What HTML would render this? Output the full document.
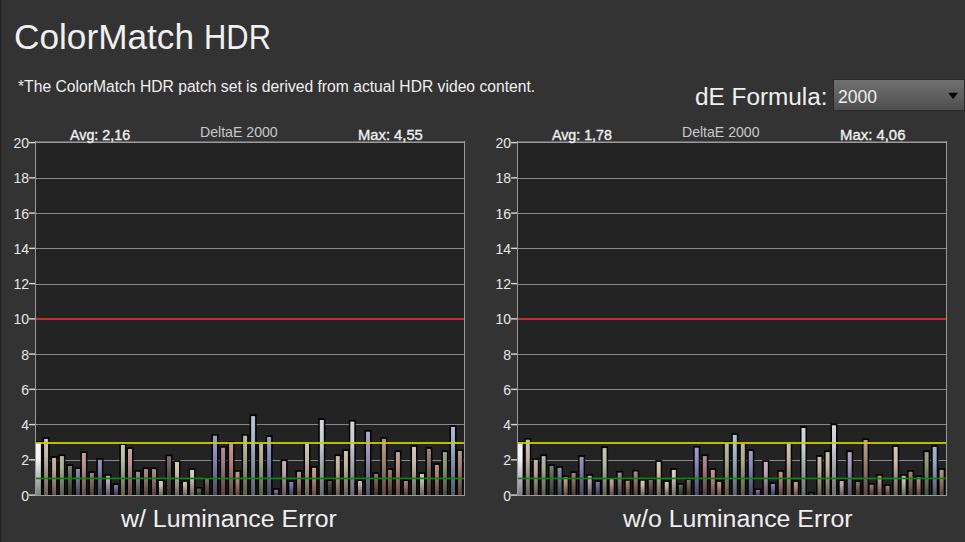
<!DOCTYPE html>
<html><head><meta charset="utf-8"><style>
html,body{margin:0;padding:0;}
body{width:965px;height:542px;background:#333333;position:relative;overflow:hidden;font-family:"Liberation Sans",sans-serif;color:#f0f0f0;}
.t{position:absolute;white-space:nowrap;transform-origin:0 0;line-height:1;}
.yl{font-family:"Liberation Sans",sans-serif;font-size:14px;fill:#e8e8e8;}
</style></head><body>
<svg width="965" height="542" style="position:absolute;left:0;top:0">
<defs><linearGradient id="g0" x1="0" y1="0" x2="0" y2="1"><stop offset="0" stop-color="#f6f6f6"/><stop offset="0.3" stop-color="#f4f4f4"/><stop offset="1" stop-color="#7f7f7f"/></linearGradient><linearGradient id="g1" x1="0" y1="0" x2="0" y2="1"><stop offset="0" stop-color="#cec2b1"/><stop offset="0.3" stop-color="#c5b8a3"/><stop offset="1" stop-color="#675f55"/></linearGradient><linearGradient id="g2" x1="0" y1="0" x2="0" y2="1"><stop offset="0" stop-color="#c6b5a4"/><stop offset="0.3" stop-color="#bca894"/><stop offset="1" stop-color="#62574d"/></linearGradient><linearGradient id="g3" x1="0" y1="0" x2="0" y2="1"><stop offset="0" stop-color="#b4baa3"/><stop offset="0.3" stop-color="#a7ae93"/><stop offset="1" stop-color="#575a4c"/></linearGradient><linearGradient id="g4" x1="0" y1="0" x2="0" y2="1"><stop offset="0" stop-color="#78836c"/><stop offset="0.3" stop-color="#606e52"/><stop offset="1" stop-color="#32392b"/></linearGradient><linearGradient id="g5" x1="0" y1="0" x2="0" y2="1"><stop offset="0" stop-color="#8894ab"/><stop offset="0.3" stop-color="#73819c"/><stop offset="1" stop-color="#3c4351"/></linearGradient><linearGradient id="g6" x1="0" y1="0" x2="0" y2="1"><stop offset="0" stop-color="#c5a296"/><stop offset="0.3" stop-color="#ba9284"/><stop offset="1" stop-color="#614c45"/></linearGradient><linearGradient id="g7" x1="0" y1="0" x2="0" y2="1"><stop offset="0" stop-color="#9d867b"/><stop offset="0.3" stop-color="#8c7163"/><stop offset="1" stop-color="#493b34"/></linearGradient><linearGradient id="g8" x1="0" y1="0" x2="0" y2="1"><stop offset="0" stop-color="#9595b8"/><stop offset="0.3" stop-color="#8282ab"/><stop offset="1" stop-color="#444459"/></linearGradient><linearGradient id="g9" x1="0" y1="0" x2="0" y2="1"><stop offset="0" stop-color="#c2b0c2"/><stop offset="0.3" stop-color="#b7a2b7"/><stop offset="1" stop-color="#5f545f"/></linearGradient><linearGradient id="g10" x1="0" y1="0" x2="0" y2="1"><stop offset="0" stop-color="#877ba9"/><stop offset="0.3" stop-color="#72649a"/><stop offset="1" stop-color="#3b3450"/></linearGradient><linearGradient id="g11" x1="0" y1="0" x2="0" y2="1"><stop offset="0" stop-color="#c2c7ab"/><stop offset="0.3" stop-color="#b7be9c"/><stop offset="1" stop-color="#5f6351"/></linearGradient><linearGradient id="g12" x1="0" y1="0" x2="0" y2="1"><stop offset="0" stop-color="#c5a29d"/><stop offset="0.3" stop-color="#bb928b"/><stop offset="1" stop-color="#614c48"/></linearGradient><linearGradient id="g13" x1="0" y1="0" x2="0" y2="1"><stop offset="0" stop-color="#939393"/><stop offset="0.3" stop-color="#808080"/><stop offset="1" stop-color="#434343"/></linearGradient><linearGradient id="g14" x1="0" y1="0" x2="0" y2="1"><stop offset="0" stop-color="#aa8d82"/><stop offset="0.3" stop-color="#9b796c"/><stop offset="1" stop-color="#513f38"/></linearGradient><linearGradient id="g15" x1="0" y1="0" x2="0" y2="1"><stop offset="0" stop-color="#aa8d82"/><stop offset="0.3" stop-color="#9b796c"/><stop offset="1" stop-color="#513f38"/></linearGradient><linearGradient id="g16" x1="0" y1="0" x2="0" y2="1"><stop offset="0" stop-color="#d4c9b2"/><stop offset="0.3" stop-color="#cdbfa4"/><stop offset="1" stop-color="#6a6355"/></linearGradient><linearGradient id="g17" x1="0" y1="0" x2="0" y2="1"><stop offset="0" stop-color="#83726c"/><stop offset="0.3" stop-color="#6d5952"/><stop offset="1" stop-color="#392e2b"/></linearGradient><linearGradient id="g18" x1="0" y1="0" x2="0" y2="1"><stop offset="0" stop-color="#d4c9b2"/><stop offset="0.3" stop-color="#cdbfa4"/><stop offset="1" stop-color="#6a6355"/></linearGradient><linearGradient id="g19" x1="0" y1="0" x2="0" y2="1"><stop offset="0" stop-color="#cec2ab"/><stop offset="0.3" stop-color="#c5b79c"/><stop offset="1" stop-color="#665f51"/></linearGradient><linearGradient id="g20" x1="0" y1="0" x2="0" y2="1"><stop offset="0" stop-color="#d5d0be"/><stop offset="0.3" stop-color="#cec7b3"/><stop offset="1" stop-color="#6b685d"/></linearGradient><linearGradient id="g21" x1="0" y1="0" x2="0" y2="1"><stop offset="0" stop-color="#6a765f"/><stop offset="0.3" stop-color="#505e42"/><stop offset="1" stop-color="#2a3123"/></linearGradient><linearGradient id="g22" x1="0" y1="0" x2="0" y2="1"><stop offset="0" stop-color="#83786c"/><stop offset="0.3" stop-color="#6e6052"/><stop offset="1" stop-color="#39322b"/></linearGradient><linearGradient id="g23" x1="0" y1="0" x2="0" y2="1"><stop offset="0" stop-color="#9d9dcb"/><stop offset="0.3" stop-color="#8b8bc2"/><stop offset="1" stop-color="#484865"/></linearGradient><linearGradient id="g24" x1="0" y1="0" x2="0" y2="1"><stop offset="0" stop-color="#b18f94"/><stop offset="0.3" stop-color="#a47b82"/><stop offset="1" stop-color="#554043"/></linearGradient><linearGradient id="g25" x1="0" y1="0" x2="0" y2="1"><stop offset="0" stop-color="#c49c90"/><stop offset="0.3" stop-color="#ba8a7c"/><stop offset="1" stop-color="#614841"/></linearGradient><linearGradient id="g26" x1="0" y1="0" x2="0" y2="1"><stop offset="0" stop-color="#c49b8a"/><stop offset="0.3" stop-color="#b98a75"/><stop offset="1" stop-color="#60483d"/></linearGradient><linearGradient id="g27" x1="0" y1="0" x2="0" y2="1"><stop offset="0" stop-color="#baba9d"/><stop offset="0.3" stop-color="#aeae8c"/><stop offset="1" stop-color="#5a5a49"/></linearGradient><linearGradient id="g28" x1="0" y1="0" x2="0" y2="1"><stop offset="0" stop-color="#b1c3d4"/><stop offset="0.3" stop-color="#a4b8cc"/><stop offset="1" stop-color="#55606a"/></linearGradient><linearGradient id="g29" x1="0" y1="0" x2="0" y2="1"><stop offset="0" stop-color="#baba9d"/><stop offset="0.3" stop-color="#aeae8c"/><stop offset="1" stop-color="#5a5a49"/></linearGradient><linearGradient id="g30" x1="0" y1="0" x2="0" y2="1"><stop offset="0" stop-color="#9d9dcb"/><stop offset="0.3" stop-color="#8b8bc2"/><stop offset="1" stop-color="#484865"/></linearGradient><linearGradient id="g31" x1="0" y1="0" x2="0" y2="1"><stop offset="0" stop-color="#937caa"/><stop offset="0.3" stop-color="#80659b"/><stop offset="1" stop-color="#433451"/></linearGradient><linearGradient id="g32" x1="0" y1="0" x2="0" y2="1"><stop offset="0" stop-color="#c7b0bc"/><stop offset="0.3" stop-color="#bea2b0"/><stop offset="1" stop-color="#63545c"/></linearGradient><linearGradient id="g33" x1="0" y1="0" x2="0" y2="1"><stop offset="0" stop-color="#8888b6"/><stop offset="0.3" stop-color="#7373aa"/><stop offset="1" stop-color="#3c3c58"/></linearGradient><linearGradient id="g34" x1="0" y1="0" x2="0" y2="1"><stop offset="0" stop-color="#b79489"/><stop offset="0.3" stop-color="#aa8274"/><stop offset="1" stop-color="#59433c"/></linearGradient><linearGradient id="g35" x1="0" y1="0" x2="0" y2="1"><stop offset="0" stop-color="#cec2ab"/><stop offset="0.3" stop-color="#c5b79c"/><stop offset="1" stop-color="#665f51"/></linearGradient><linearGradient id="g36" x1="0" y1="0" x2="0" y2="1"><stop offset="0" stop-color="#c4a290"/><stop offset="0.3" stop-color="#ba917d"/><stop offset="1" stop-color="#614c41"/></linearGradient><linearGradient id="g37" x1="0" y1="0" x2="0" y2="1"><stop offset="0" stop-color="#cbd7dc"/><stop offset="0.3" stop-color="#c2d0d6"/><stop offset="1" stop-color="#656c6f"/></linearGradient><linearGradient id="g38" x1="0" y1="0" x2="0" y2="1"><stop offset="0" stop-color="#695d57"/><stop offset="0.3" stop-color="#4e403a"/><stop offset="1" stop-color="#29211e"/></linearGradient><linearGradient id="g39" x1="0" y1="0" x2="0" y2="1"><stop offset="0" stop-color="#cdbca4"/><stop offset="0.3" stop-color="#c4b094"/><stop offset="1" stop-color="#665b4d"/></linearGradient><linearGradient id="g40" x1="0" y1="0" x2="0" y2="1"><stop offset="0" stop-color="#cec2ab"/><stop offset="0.3" stop-color="#c5b79c"/><stop offset="1" stop-color="#665f51"/></linearGradient><linearGradient id="g41" x1="0" y1="0" x2="0" y2="1"><stop offset="0" stop-color="#d1d4da"/><stop offset="0.3" stop-color="#c9ccd3"/><stop offset="1" stop-color="#686a6e"/></linearGradient><linearGradient id="g42" x1="0" y1="0" x2="0" y2="1"><stop offset="0" stop-color="#c7b0bc"/><stop offset="0.3" stop-color="#bea2b0"/><stop offset="1" stop-color="#63545c"/></linearGradient><linearGradient id="g43" x1="0" y1="0" x2="0" y2="1"><stop offset="0" stop-color="#aca6c6"/><stop offset="0.3" stop-color="#9d97bc"/><stop offset="1" stop-color="#524e62"/></linearGradient><linearGradient id="g44" x1="0" y1="0" x2="0" y2="1"><stop offset="0" stop-color="#90796d"/><stop offset="0.3" stop-color="#7c6153"/><stop offset="1" stop-color="#40322b"/></linearGradient><linearGradient id="g45" x1="0" y1="0" x2="0" y2="1"><stop offset="0" stop-color="#b79b89"/><stop offset="0.3" stop-color="#ab8974"/><stop offset="1" stop-color="#59473d"/></linearGradient><linearGradient id="g46" x1="0" y1="0" x2="0" y2="1"><stop offset="0" stop-color="#9d8074"/><stop offset="0.3" stop-color="#8b695c"/><stop offset="1" stop-color="#483730"/></linearGradient><linearGradient id="g47" x1="0" y1="0" x2="0" y2="1"><stop offset="0" stop-color="#c5a296"/><stop offset="0.3" stop-color="#ba9284"/><stop offset="1" stop-color="#614c45"/></linearGradient><linearGradient id="g48" x1="0" y1="0" x2="0" y2="1"><stop offset="0" stop-color="#a9877b"/><stop offset="0.3" stop-color="#9a7264"/><stop offset="1" stop-color="#503b34"/></linearGradient><linearGradient id="g49" x1="0" y1="0" x2="0" y2="1"><stop offset="0" stop-color="#cec8b1"/><stop offset="0.3" stop-color="#c6bfa4"/><stop offset="1" stop-color="#676355"/></linearGradient><linearGradient id="g50" x1="0" y1="0" x2="0" y2="1"><stop offset="0" stop-color="#c8c8b1"/><stop offset="0.3" stop-color="#bebea3"/><stop offset="1" stop-color="#636355"/></linearGradient><linearGradient id="g51" x1="0" y1="0" x2="0" y2="1"><stop offset="0" stop-color="#9e8681"/><stop offset="0.3" stop-color="#8c716a"/><stop offset="1" stop-color="#493b37"/></linearGradient><linearGradient id="g52" x1="0" y1="0" x2="0" y2="1"><stop offset="0" stop-color="#b79189"/><stop offset="0.3" stop-color="#aa7e74"/><stop offset="1" stop-color="#59423c"/></linearGradient><linearGradient id="g53" x1="0" y1="0" x2="0" y2="1"><stop offset="0" stop-color="#9ba588"/><stop offset="0.3" stop-color="#899573"/><stop offset="1" stop-color="#474e3c"/></linearGradient><linearGradient id="g54" x1="0" y1="0" x2="0" y2="1"><stop offset="0" stop-color="#a4b6d3"/><stop offset="0.3" stop-color="#94a9cb"/><stop offset="1" stop-color="#4d5869"/></linearGradient><linearGradient id="g55" x1="0" y1="0" x2="0" y2="1"><stop offset="0" stop-color="#b79489"/><stop offset="0.3" stop-color="#aa8274"/><stop offset="1" stop-color="#59433c"/></linearGradient>
<linearGradient id="dd" x1="0" y1="0" x2="0" y2="1"><stop offset="0" stop-color="#707070"/><stop offset="0.5" stop-color="#606060"/><stop offset="1" stop-color="#4e4e4e"/></linearGradient>
</defs>
<rect x="35" y="141" width="430" height="354" fill="#232323"/>
<rect x="35" y="495" width="430" height="1" fill="#8a8a8a"/>
<rect x="29" y="494.40" width="6" height="1.4" fill="#d8d8d8"/>
<text x="29" y="500.50" text-anchor="end" class="yl">0</text>
<rect x="35" y="460" width="430" height="1" fill="#8a8a8a"/>
<rect x="29" y="459.15" width="6" height="1.4" fill="#d8d8d8"/>
<text x="29" y="465.25" text-anchor="end" class="yl">2</text>
<rect x="35" y="424" width="430" height="1" fill="#8a8a8a"/>
<rect x="29" y="423.90" width="6" height="1.4" fill="#d8d8d8"/>
<text x="29" y="430.00" text-anchor="end" class="yl">4</text>
<rect x="35" y="389" width="430" height="1" fill="#8a8a8a"/>
<rect x="29" y="388.65" width="6" height="1.4" fill="#d8d8d8"/>
<text x="29" y="394.75" text-anchor="end" class="yl">6</text>
<rect x="35" y="354" width="430" height="1" fill="#8a8a8a"/>
<rect x="29" y="353.40" width="6" height="1.4" fill="#d8d8d8"/>
<text x="29" y="359.50" text-anchor="end" class="yl">8</text>
<rect x="35" y="319" width="430" height="1" fill="#8a8a8a"/>
<rect x="29" y="318.15" width="6" height="1.4" fill="#d8d8d8"/>
<text x="29" y="324.25" text-anchor="end" class="yl">10</text>
<rect x="35" y="284" width="430" height="1" fill="#8a8a8a"/>
<rect x="29" y="282.90" width="6" height="1.4" fill="#d8d8d8"/>
<text x="29" y="289.00" text-anchor="end" class="yl">12</text>
<rect x="35" y="248" width="430" height="1" fill="#8a8a8a"/>
<rect x="29" y="247.65" width="6" height="1.4" fill="#d8d8d8"/>
<text x="29" y="253.75" text-anchor="end" class="yl">14</text>
<rect x="35" y="213" width="430" height="1" fill="#8a8a8a"/>
<rect x="29" y="212.40" width="6" height="1.4" fill="#d8d8d8"/>
<text x="29" y="218.50" text-anchor="end" class="yl">16</text>
<rect x="35" y="178" width="430" height="1" fill="#8a8a8a"/>
<rect x="29" y="177.15" width="6" height="1.4" fill="#d8d8d8"/>
<text x="29" y="183.25" text-anchor="end" class="yl">18</text>
<rect x="29" y="141.90" width="6" height="1.4" fill="#d8d8d8"/>
<text x="29" y="148.00" text-anchor="end" class="yl">20</text>
<rect x="35" y="141" width="430" height="1" fill="#6a6a6a"/>
<rect x="35" y="142" width="430" height="1" fill="#9a9a9a"/>
<rect x="35" y="141" width="1" height="355" fill="#9a9a9a"/>
<rect x="464" y="141" width="1" height="355" fill="#9a9a9a"/>
<rect x="35.40" y="441.20" width="7.00" height="53.80" fill="#000"/>
<rect x="36" y="442.90" width="4.90" height="52.10" fill="url(#g0)"/>
<rect x="42.60" y="437.20" width="7.00" height="57.80" fill="#000"/>
<rect x="44.10" y="438.90" width="4.00" height="56.10" fill="url(#g1)"/>
<rect x="50.60" y="456.20" width="7.00" height="38.80" fill="#000"/>
<rect x="52.10" y="457.90" width="4.00" height="37.10" fill="url(#g2)"/>
<rect x="58.40" y="454.40" width="7.00" height="40.60" fill="#000"/>
<rect x="59.90" y="456.10" width="4.00" height="38.90" fill="url(#g3)"/>
<rect x="66.40" y="464.20" width="7.00" height="30.80" fill="#000"/>
<rect x="67.90" y="465.90" width="4.00" height="29.10" fill="url(#g4)"/>
<rect x="74.40" y="467.20" width="7.00" height="27.80" fill="#000"/>
<rect x="75.90" y="468.90" width="4.00" height="26.10" fill="url(#g5)"/>
<rect x="80.40" y="451.30" width="7.00" height="43.70" fill="#000"/>
<rect x="81.90" y="453.00" width="4.00" height="42.00" fill="url(#g6)"/>
<rect x="88.40" y="471.30" width="7.00" height="23.70" fill="#000"/>
<rect x="89.90" y="473.00" width="4.00" height="22.00" fill="url(#g7)"/>
<rect x="96.40" y="458.10" width="7.00" height="36.90" fill="#000"/>
<rect x="97.90" y="459.80" width="4.00" height="35.20" fill="url(#g8)"/>
<rect x="104.50" y="474.10" width="7.00" height="20.90" fill="#000"/>
<rect x="106.00" y="475.80" width="4.00" height="19.20" fill="url(#g9)"/>
<rect x="112.50" y="483.30" width="7.00" height="11.70" fill="#000"/>
<rect x="114.00" y="485.00" width="4.00" height="10.00" fill="url(#g10)"/>
<rect x="119.40" y="443.30" width="7.00" height="51.70" fill="#000"/>
<rect x="120.90" y="445.00" width="4.00" height="50.00" fill="url(#g11)"/>
<rect x="126.50" y="447.30" width="7.00" height="47.70" fill="#000"/>
<rect x="128.00" y="449.00" width="4.00" height="46.00" fill="url(#g12)"/>
<rect x="134.50" y="470.10" width="7.00" height="24.90" fill="#000"/>
<rect x="136.00" y="471.80" width="4.00" height="23.20" fill="url(#g13)"/>
<rect x="142.50" y="467.40" width="7.00" height="27.60" fill="#000"/>
<rect x="144.00" y="469.10" width="4.00" height="25.90" fill="url(#g14)"/>
<rect x="150.50" y="467.40" width="7.00" height="27.60" fill="#000"/>
<rect x="152.00" y="469.10" width="4.00" height="25.90" fill="url(#g15)"/>
<rect x="157.40" y="479.30" width="7.00" height="15.70" fill="#000"/>
<rect x="158.90" y="481.00" width="4.00" height="14.00" fill="url(#g16)"/>
<rect x="165.50" y="454.60" width="7.00" height="40.40" fill="#000"/>
<rect x="167.00" y="456.30" width="4.00" height="38.70" fill="url(#g17)"/>
<rect x="173.50" y="460.20" width="7.00" height="34.80" fill="#000"/>
<rect x="175.00" y="461.90" width="4.00" height="33.10" fill="url(#g18)"/>
<rect x="181.50" y="480.20" width="7.00" height="14.80" fill="#000"/>
<rect x="183.00" y="481.90" width="4.00" height="13.10" fill="url(#g19)"/>
<rect x="188.60" y="468.20" width="7.00" height="26.80" fill="#000"/>
<rect x="190.10" y="469.90" width="4.00" height="25.10" fill="url(#g20)"/>
<rect x="195.50" y="487.00" width="7.00" height="8.00" fill="#000"/>
<rect x="197.00" y="488.70" width="4.00" height="6.30" fill="url(#g21)"/>
<rect x="203.50" y="477.00" width="7.00" height="18.00" fill="#000"/>
<rect x="205.00" y="478.70" width="4.00" height="16.30" fill="url(#g22)"/>
<rect x="211.50" y="434.00" width="7.00" height="61.00" fill="#000"/>
<rect x="213.00" y="435.70" width="4.00" height="59.30" fill="url(#g23)"/>
<rect x="219.60" y="446.00" width="7.00" height="49.00" fill="#000"/>
<rect x="221.10" y="447.70" width="4.00" height="47.30" fill="url(#g24)"/>
<rect x="227.60" y="441.20" width="7.00" height="53.80" fill="#000"/>
<rect x="229.10" y="442.90" width="4.00" height="52.10" fill="url(#g25)"/>
<rect x="234.00" y="470.10" width="7.00" height="24.90" fill="#000"/>
<rect x="235.50" y="471.80" width="4.00" height="23.20" fill="url(#g26)"/>
<rect x="241.60" y="434.00" width="7.00" height="61.00" fill="#000"/>
<rect x="243.10" y="435.70" width="4.00" height="59.30" fill="url(#g27)"/>
<rect x="249.60" y="414.40" width="7.00" height="80.60" fill="#000"/>
<rect x="251.10" y="416.10" width="4.00" height="78.90" fill="url(#g28)"/>
<rect x="257.60" y="442.00" width="7.00" height="53.00" fill="#000"/>
<rect x="259.10" y="443.70" width="4.00" height="51.30" fill="url(#g29)"/>
<rect x="265.60" y="435.30" width="7.00" height="59.70" fill="#000"/>
<rect x="267.10" y="437.00" width="4.00" height="58.00" fill="url(#g30)"/>
<rect x="272.60" y="488.10" width="7.00" height="6.90" fill="#000"/>
<rect x="274.10" y="489.80" width="4.00" height="5.20" fill="url(#g31)"/>
<rect x="280.60" y="459.40" width="7.00" height="35.60" fill="#000"/>
<rect x="282.10" y="461.10" width="4.00" height="33.90" fill="url(#g32)"/>
<rect x="287.80" y="480.30" width="7.00" height="14.70" fill="#000"/>
<rect x="289.30" y="482.00" width="4.00" height="13.00" fill="url(#g33)"/>
<rect x="295.50" y="470.10" width="7.00" height="24.90" fill="#000"/>
<rect x="297.00" y="471.80" width="4.00" height="23.20" fill="url(#g34)"/>
<rect x="303.50" y="442.00" width="7.00" height="53.00" fill="#000"/>
<rect x="305.00" y="443.70" width="4.00" height="51.30" fill="url(#g35)"/>
<rect x="310.60" y="466.10" width="7.00" height="28.90" fill="#000"/>
<rect x="312.10" y="467.80" width="4.00" height="27.20" fill="url(#g36)"/>
<rect x="318.30" y="418.30" width="7.00" height="76.70" fill="#000"/>
<rect x="319.80" y="420.00" width="4.00" height="75.00" fill="url(#g37)"/>
<rect x="326.30" y="479.30" width="7.00" height="15.70" fill="#000"/>
<rect x="327.80" y="481.00" width="4.00" height="14.00" fill="url(#g38)"/>
<rect x="334.30" y="454.40" width="7.00" height="40.60" fill="#000"/>
<rect x="335.80" y="456.10" width="4.00" height="38.90" fill="url(#g39)"/>
<rect x="342.40" y="449.30" width="7.00" height="45.70" fill="#000"/>
<rect x="343.90" y="451.00" width="4.00" height="44.00" fill="url(#g40)"/>
<rect x="348.80" y="419.90" width="7.00" height="75.10" fill="#000"/>
<rect x="350.30" y="421.60" width="4.00" height="73.40" fill="url(#g41)"/>
<rect x="356.50" y="479.30" width="7.00" height="15.70" fill="#000"/>
<rect x="358.00" y="481.00" width="4.00" height="14.00" fill="url(#g42)"/>
<rect x="364.50" y="430.00" width="7.00" height="65.00" fill="#000"/>
<rect x="366.00" y="431.70" width="4.00" height="63.30" fill="url(#g43)"/>
<rect x="372.60" y="472.20" width="7.00" height="22.80" fill="#000"/>
<rect x="374.10" y="473.90" width="4.00" height="21.10" fill="url(#g44)"/>
<rect x="380.40" y="437.20" width="7.00" height="57.80" fill="#000"/>
<rect x="381.90" y="438.90" width="4.00" height="56.10" fill="url(#g45)"/>
<rect x="386.40" y="468.20" width="7.00" height="26.80" fill="#000"/>
<rect x="387.90" y="469.90" width="4.00" height="25.10" fill="url(#g46)"/>
<rect x="394.40" y="450.40" width="7.00" height="44.60" fill="#000"/>
<rect x="395.90" y="452.10" width="4.00" height="42.90" fill="url(#g47)"/>
<rect x="402.40" y="479.30" width="7.00" height="15.70" fill="#000"/>
<rect x="403.90" y="481.00" width="4.00" height="14.00" fill="url(#g48)"/>
<rect x="410.50" y="445.20" width="7.00" height="49.80" fill="#000"/>
<rect x="412.00" y="446.90" width="4.00" height="48.10" fill="url(#g49)"/>
<rect x="418.50" y="472.20" width="7.00" height="22.80" fill="#000"/>
<rect x="420.00" y="473.90" width="4.00" height="21.10" fill="url(#g50)"/>
<rect x="425.40" y="447.20" width="7.00" height="47.80" fill="#000"/>
<rect x="426.90" y="448.90" width="4.00" height="46.10" fill="url(#g51)"/>
<rect x="433.40" y="463.20" width="7.00" height="31.80" fill="#000"/>
<rect x="434.90" y="464.90" width="4.00" height="30.10" fill="url(#g52)"/>
<rect x="441.40" y="450.40" width="7.00" height="44.60" fill="#000"/>
<rect x="442.90" y="452.10" width="4.00" height="42.90" fill="url(#g53)"/>
<rect x="449.50" y="425.20" width="7.00" height="69.80" fill="#000"/>
<rect x="451.00" y="426.90" width="4.00" height="68.10" fill="url(#g54)"/>
<rect x="456.40" y="449.30" width="7.00" height="45.70" fill="#000"/>
<rect x="457.90" y="451.00" width="4.00" height="44.00" fill="url(#g55)"/>
<rect x="35" y="141" width="1" height="355" fill="#9a9a9a"/>
<rect x="35" y="495" width="430" height="1" fill="#9a9a9a"/>
<rect x="36" y="318" width="428" height="2" fill="#cc2c2c"/>
<rect x="36" y="442.1" width="428" height="1.8" fill="#cccc00"/>
<rect x="36" y="477.6" width="428" height="1.7" fill="#0c860c"/>
<rect x="517" y="141" width="430" height="354" fill="#232323"/>
<rect x="517" y="495" width="430" height="1" fill="#8a8a8a"/>
<rect x="511" y="494.40" width="6" height="1.4" fill="#d8d8d8"/>
<text x="511" y="500.50" text-anchor="end" class="yl">0</text>
<rect x="517" y="460" width="430" height="1" fill="#8a8a8a"/>
<rect x="511" y="459.15" width="6" height="1.4" fill="#d8d8d8"/>
<text x="511" y="465.25" text-anchor="end" class="yl">2</text>
<rect x="517" y="424" width="430" height="1" fill="#8a8a8a"/>
<rect x="511" y="423.90" width="6" height="1.4" fill="#d8d8d8"/>
<text x="511" y="430.00" text-anchor="end" class="yl">4</text>
<rect x="517" y="389" width="430" height="1" fill="#8a8a8a"/>
<rect x="511" y="388.65" width="6" height="1.4" fill="#d8d8d8"/>
<text x="511" y="394.75" text-anchor="end" class="yl">6</text>
<rect x="517" y="354" width="430" height="1" fill="#8a8a8a"/>
<rect x="511" y="353.40" width="6" height="1.4" fill="#d8d8d8"/>
<text x="511" y="359.50" text-anchor="end" class="yl">8</text>
<rect x="517" y="319" width="430" height="1" fill="#8a8a8a"/>
<rect x="511" y="318.15" width="6" height="1.4" fill="#d8d8d8"/>
<text x="511" y="324.25" text-anchor="end" class="yl">10</text>
<rect x="517" y="284" width="430" height="1" fill="#8a8a8a"/>
<rect x="511" y="282.90" width="6" height="1.4" fill="#d8d8d8"/>
<text x="511" y="289.00" text-anchor="end" class="yl">12</text>
<rect x="517" y="248" width="430" height="1" fill="#8a8a8a"/>
<rect x="511" y="247.65" width="6" height="1.4" fill="#d8d8d8"/>
<text x="511" y="253.75" text-anchor="end" class="yl">14</text>
<rect x="517" y="213" width="430" height="1" fill="#8a8a8a"/>
<rect x="511" y="212.40" width="6" height="1.4" fill="#d8d8d8"/>
<text x="511" y="218.50" text-anchor="end" class="yl">16</text>
<rect x="517" y="178" width="430" height="1" fill="#8a8a8a"/>
<rect x="511" y="177.15" width="6" height="1.4" fill="#d8d8d8"/>
<text x="511" y="183.25" text-anchor="end" class="yl">18</text>
<rect x="511" y="141.90" width="6" height="1.4" fill="#d8d8d8"/>
<text x="511" y="148.00" text-anchor="end" class="yl">20</text>
<rect x="517" y="141" width="430" height="1" fill="#6a6a6a"/>
<rect x="517" y="142" width="430" height="1" fill="#9a9a9a"/>
<rect x="517" y="141" width="1" height="355" fill="#9a9a9a"/>
<rect x="946" y="141" width="1" height="355" fill="#9a9a9a"/>
<rect x="517.10" y="441.50" width="7.00" height="53.50" fill="#000"/>
<rect x="518" y="443.20" width="4.60" height="51.80" fill="url(#g0)"/>
<rect x="524.30" y="438.00" width="7.00" height="57.00" fill="#000"/>
<rect x="525.80" y="439.70" width="4.00" height="55.30" fill="url(#g1)"/>
<rect x="532.30" y="458.10" width="7.00" height="36.90" fill="#000"/>
<rect x="533.80" y="459.80" width="4.00" height="35.20" fill="url(#g2)"/>
<rect x="540.10" y="454.40" width="7.00" height="40.60" fill="#000"/>
<rect x="541.60" y="456.10" width="4.00" height="38.90" fill="url(#g3)"/>
<rect x="548.10" y="464.20" width="7.00" height="30.80" fill="#000"/>
<rect x="549.60" y="465.90" width="4.00" height="29.10" fill="url(#g4)"/>
<rect x="556.10" y="466.10" width="7.00" height="28.90" fill="#000"/>
<rect x="557.60" y="467.80" width="4.00" height="27.20" fill="url(#g5)"/>
<rect x="562.10" y="475.40" width="7.00" height="19.60" fill="#000"/>
<rect x="563.60" y="477.10" width="4.00" height="17.90" fill="url(#g6)"/>
<rect x="570.10" y="471.30" width="7.00" height="23.70" fill="#000"/>
<rect x="571.60" y="473.00" width="4.00" height="22.00" fill="url(#g7)"/>
<rect x="578.10" y="455.20" width="7.00" height="39.80" fill="#000"/>
<rect x="579.60" y="456.90" width="4.00" height="38.10" fill="url(#g8)"/>
<rect x="586.20" y="474.10" width="7.00" height="20.90" fill="#000"/>
<rect x="587.70" y="475.80" width="4.00" height="19.20" fill="url(#g9)"/>
<rect x="594.20" y="480.20" width="7.00" height="14.80" fill="#000"/>
<rect x="595.70" y="481.90" width="4.00" height="13.10" fill="url(#g10)"/>
<rect x="601.10" y="446.40" width="7.00" height="48.60" fill="#000"/>
<rect x="602.60" y="448.10" width="4.00" height="46.90" fill="url(#g11)"/>
<rect x="608.20" y="477.40" width="7.00" height="17.60" fill="#000"/>
<rect x="609.70" y="479.10" width="4.00" height="15.90" fill="url(#g12)"/>
<rect x="616.20" y="470.90" width="7.00" height="24.10" fill="#000"/>
<rect x="617.70" y="472.60" width="4.00" height="22.40" fill="url(#g13)"/>
<rect x="624.20" y="479.00" width="7.00" height="16.00" fill="#000"/>
<rect x="625.70" y="480.70" width="4.00" height="14.30" fill="url(#g14)"/>
<rect x="632.20" y="469.80" width="7.00" height="25.20" fill="#000"/>
<rect x="633.70" y="471.50" width="4.00" height="23.50" fill="url(#g15)"/>
<rect x="639.10" y="479.00" width="7.00" height="16.00" fill="#000"/>
<rect x="640.60" y="480.70" width="4.00" height="14.30" fill="url(#g16)"/>
<rect x="647.20" y="478.20" width="7.00" height="16.80" fill="#000"/>
<rect x="648.70" y="479.90" width="4.00" height="15.10" fill="url(#g17)"/>
<rect x="655.20" y="460.20" width="7.00" height="34.80" fill="#000"/>
<rect x="656.70" y="461.90" width="4.00" height="33.10" fill="url(#g18)"/>
<rect x="663.20" y="480.20" width="7.00" height="14.80" fill="#000"/>
<rect x="664.70" y="481.90" width="4.00" height="13.10" fill="url(#g19)"/>
<rect x="670.30" y="468.20" width="7.00" height="26.80" fill="#000"/>
<rect x="671.80" y="469.90" width="4.00" height="25.10" fill="url(#g20)"/>
<rect x="677.20" y="483.00" width="7.00" height="12.00" fill="#000"/>
<rect x="678.70" y="484.70" width="4.00" height="10.30" fill="url(#g21)"/>
<rect x="685.20" y="478.20" width="7.00" height="16.80" fill="#000"/>
<rect x="686.70" y="479.90" width="4.00" height="15.10" fill="url(#g22)"/>
<rect x="693.20" y="446.00" width="7.00" height="49.00" fill="#000"/>
<rect x="694.70" y="447.70" width="4.00" height="47.30" fill="url(#g23)"/>
<rect x="701.30" y="454.40" width="7.00" height="40.60" fill="#000"/>
<rect x="702.80" y="456.10" width="4.00" height="38.90" fill="url(#g24)"/>
<rect x="709.30" y="468.20" width="7.00" height="26.80" fill="#000"/>
<rect x="710.80" y="469.90" width="4.00" height="25.10" fill="url(#g25)"/>
<rect x="715.70" y="480.20" width="7.00" height="14.80" fill="#000"/>
<rect x="717.20" y="481.90" width="4.00" height="13.10" fill="url(#g26)"/>
<rect x="723.30" y="441.20" width="7.00" height="53.80" fill="#000"/>
<rect x="724.80" y="442.90" width="4.00" height="52.10" fill="url(#g27)"/>
<rect x="731.30" y="433.20" width="7.00" height="61.80" fill="#000"/>
<rect x="732.80" y="434.90" width="4.00" height="60.10" fill="url(#g28)"/>
<rect x="739.30" y="442.00" width="7.00" height="53.00" fill="#000"/>
<rect x="740.80" y="443.70" width="4.00" height="51.30" fill="url(#g29)"/>
<rect x="747.30" y="449.30" width="7.00" height="45.70" fill="#000"/>
<rect x="748.80" y="451.00" width="4.00" height="44.00" fill="url(#g30)"/>
<rect x="754.30" y="488.30" width="7.00" height="6.70" fill="#000"/>
<rect x="755.80" y="490.00" width="4.00" height="5.00" fill="url(#g31)"/>
<rect x="762.30" y="460.20" width="7.00" height="34.80" fill="#000"/>
<rect x="763.80" y="461.90" width="4.00" height="33.10" fill="url(#g32)"/>
<rect x="769.50" y="482.20" width="7.00" height="12.80" fill="#000"/>
<rect x="771.00" y="483.90" width="4.00" height="11.10" fill="url(#g33)"/>
<rect x="777.20" y="470.10" width="7.00" height="24.90" fill="#000"/>
<rect x="778.70" y="471.80" width="4.00" height="23.20" fill="url(#g34)"/>
<rect x="785.20" y="442.00" width="7.00" height="53.00" fill="#000"/>
<rect x="786.70" y="443.70" width="4.00" height="51.30" fill="url(#g35)"/>
<rect x="792.30" y="480.20" width="7.00" height="14.80" fill="#000"/>
<rect x="793.80" y="481.90" width="4.00" height="13.10" fill="url(#g36)"/>
<rect x="800.00" y="426.30" width="7.00" height="68.70" fill="#000"/>
<rect x="801.50" y="428.00" width="4.00" height="67.00" fill="url(#g37)"/>
<rect x="808.00" y="491.80" width="7.00" height="3.20" fill="#000"/>
<rect x="809.50" y="493.50" width="4.00" height="1.50" fill="url(#g38)"/>
<rect x="816.00" y="455.20" width="7.00" height="39.80" fill="#000"/>
<rect x="817.50" y="456.90" width="4.00" height="38.10" fill="url(#g39)"/>
<rect x="824.10" y="450.40" width="7.00" height="44.60" fill="#000"/>
<rect x="825.60" y="452.10" width="4.00" height="42.90" fill="url(#g40)"/>
<rect x="830.50" y="423.60" width="7.00" height="71.40" fill="#000"/>
<rect x="832.00" y="425.30" width="4.00" height="69.70" fill="url(#g41)"/>
<rect x="838.20" y="479.30" width="7.00" height="15.70" fill="#000"/>
<rect x="839.70" y="481.00" width="4.00" height="14.00" fill="url(#g42)"/>
<rect x="846.20" y="450.40" width="7.00" height="44.60" fill="#000"/>
<rect x="847.70" y="452.10" width="4.00" height="42.90" fill="url(#g43)"/>
<rect x="854.30" y="480.20" width="7.00" height="14.80" fill="#000"/>
<rect x="855.80" y="481.90" width="4.00" height="13.10" fill="url(#g44)"/>
<rect x="862.10" y="438.30" width="7.00" height="56.70" fill="#000"/>
<rect x="863.60" y="440.00" width="4.00" height="55.00" fill="url(#g45)"/>
<rect x="868.10" y="483.00" width="7.00" height="12.00" fill="#000"/>
<rect x="869.60" y="484.70" width="4.00" height="10.30" fill="url(#g46)"/>
<rect x="876.10" y="474.10" width="7.00" height="20.90" fill="#000"/>
<rect x="877.60" y="475.80" width="4.00" height="19.20" fill="url(#g47)"/>
<rect x="884.10" y="484.10" width="7.00" height="10.90" fill="#000"/>
<rect x="885.60" y="485.80" width="4.00" height="9.20" fill="url(#g48)"/>
<rect x="892.20" y="445.20" width="7.00" height="49.80" fill="#000"/>
<rect x="893.70" y="446.90" width="4.00" height="48.10" fill="url(#g49)"/>
<rect x="900.20" y="474.10" width="7.00" height="20.90" fill="#000"/>
<rect x="901.70" y="475.80" width="4.00" height="19.20" fill="url(#g50)"/>
<rect x="907.10" y="470.10" width="7.00" height="24.90" fill="#000"/>
<rect x="908.60" y="471.80" width="4.00" height="23.20" fill="url(#g51)"/>
<rect x="915.10" y="475.40" width="7.00" height="19.60" fill="#000"/>
<rect x="916.60" y="477.10" width="4.00" height="17.90" fill="url(#g52)"/>
<rect x="923.10" y="450.40" width="7.00" height="44.60" fill="#000"/>
<rect x="924.60" y="452.10" width="4.00" height="42.90" fill="url(#g53)"/>
<rect x="931.20" y="445.20" width="7.00" height="49.80" fill="#000"/>
<rect x="932.70" y="446.90" width="4.00" height="48.10" fill="url(#g54)"/>
<rect x="938.10" y="468.20" width="7.00" height="26.80" fill="#000"/>
<rect x="939.60" y="469.90" width="4.00" height="25.10" fill="url(#g55)"/>
<rect x="517" y="141" width="1" height="355" fill="#9a9a9a"/>
<rect x="517" y="495" width="430" height="1" fill="#9a9a9a"/>
<rect x="518" y="318" width="428" height="2" fill="#cc2c2c"/>
<rect x="518" y="442.1" width="428" height="1.8" fill="#cccc00"/>
<rect x="518" y="477.6" width="428" height="1.7" fill="#0c860c"/>
<rect x="0" y="0" width="1" height="542" fill="#232323"/><rect x="1" y="0" width="1" height="542" fill="#2e2e2e"/>
<rect x="833" y="79" width="132" height="32" fill="#2a2a2a"/>
<rect x="834" y="80" width="130" height="30" fill="url(#dd)"/>
<path d="M948.2 92.8 L958 92.8 L953.1 99.1 Z" fill="#000"/>
</svg>
<div class="t" style="left:14.12px;top:19.73px;font-size:34.2px;transform:scaleX(1.0299);color:#f0f0f0;font-weight:normal">ColorMatch</div><div class="t" style="left:17.8px;top:78.76px;font-size:16.52px;transform:scaleX(0.9485);color:#f0f0f0;font-weight:normal">*The ColorMatch HDR patch set is derived from actual HDR video content.</div><div class="t" style="left:695.39px;top:85.08px;font-size:24.49px;transform:scaleX(0.9939);color:#f0f0f0;font-weight:normal">dE Formula:</div><div class="t" style="left:838.28px;top:88.2px;font-size:18.71px;transform:scaleX(0.9403);color:#f0f0f0;font-weight:normal">2000</div><div class="t" style="left:70.2px;top:127.73px;font-size:14.2px;transform:scaleX(1.0069);color:#f0f0f0;font-weight:normal;-webkit-text-stroke:0.35px #f0f0f0">Avg: 2,16</div><div class="t" style="left:200.36px;top:124.73px;font-size:14.2px;transform:scaleX(0.9952);color:#c8c8c8;font-weight:normal">DeltaE 2000</div><div class="t" style="left:358.16px;top:127.6px;font-size:14.35px;transform:scaleX(1.0293);color:#f0f0f0;font-weight:normal;-webkit-text-stroke:0.35px #f0f0f0">Max: 4,55</div><div class="t" style="left:552.4px;top:127.73px;font-size:14.2px;transform:scaleX(1.0036);color:#f0f0f0;font-weight:normal;-webkit-text-stroke:0.35px #f0f0f0">Avg: 1,78</div><div class="t" style="left:682.0px;top:124.73px;font-size:14.2px;transform:scaleX(0.9922);color:#c8c8c8;font-weight:normal">DeltaE 2000</div><div class="t" style="left:839.76px;top:127.6px;font-size:14.35px;transform:scaleX(1.0388);color:#f0f0f0;font-weight:normal;-webkit-text-stroke:0.35px #f0f0f0">Max: 4,06</div><div class="t" style="left:120.8px;top:507.06px;font-size:24.64px;transform:scaleX(1.0111);color:#f0f0f0;font-weight:normal">w/ Luminance Error</div><div class="t" style="left:622.6px;top:507.06px;font-size:24.64px;transform:scaleX(1.0108);color:#f0f0f0;font-weight:normal">w/o Luminance Error</div><div class="t" style="left:203.93px;top:19.73px;font-size:34.2px;transform:scaleX(0.9038);color:#f0f0f0;font-weight:normal">HDR</div>
</body></html>
